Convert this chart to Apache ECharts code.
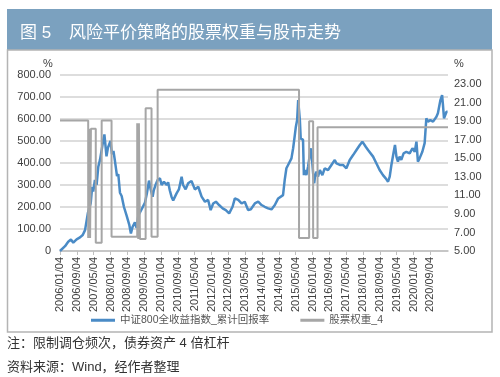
<!DOCTYPE html>
<html>
<head>
<meta charset="utf-8">
<script src="https://cdn.jsdelivr.net/npm/echarts@6/dist/echarts.min.js"></script>
<style>
html, body { margin: 0; padding: 0; background: #fff; }
#chart { width: 500px; height: 377px; }
</style>
</head>
<body>
<div id="chart"></div>
<script>
// x is measured in months after 2006/01/04
var tickLabels = ['2006/01/04','2006/09/04','2007/05/04','2008/01/04','2008/09/04','2009/05/04',
    '2010/01/04','2010/09/04','2011/05/04','2012/01/04','2012/09/04','2013/05/04','2014/01/04',
    '2014/09/04','2015/05/04','2016/01/04','2016/09/04','2017/05/04','2018/01/04','2018/09/04',
    '2019/05/04','2020/01/04','2020/09/04'];

// 中证800全收益指数_累计回报率 (%)
var retMonths = [0,2.4,3.9,5.2,6.3,7.9,9.5,10.8,11.9,13.3,14.6,15.3,15.8,16.6,17.4,18.2,19.0,19.8,20.6,21.1,
    22.1,22.8,24.0,24.7,25.4,26.1,27.1,27.7,28.5,29.3,30.4,31.7,32.9,33.7,34.5,35.6,36.4,37.2,38.8,40.4,
    41.3,42.3,43.1,44.0,44.6,45.4,46.4,47.5,48.3,49.4,50.7,51.4,52.2,53.0,53.8,55.4,56.5,57.8,58.5,59.7,
    60.9,62.5,64.1,65.7,67.3,68.9,70.4,71.6,72.8,74.1,75.6,77.3,78.8,80.4,82.0,83.1,84.7,86.3,87.8,89.4,
    90.7,92.6,94.2,95.8,97.3,98.9,100.5,102.1,103.7,104.5,106.0,106.8,107.6,108.4,109.2,110.0,110.8,111.6,112.1,112.7,
    113.2,113.5,114.0,114.4,115.0,115.5,115.9,116.3,117.1,117.9,118.7,119.2,119.8,120.3,120.8,121.2,121.9,122.6,123.5,124.7,
    125.8,127.4,129.0,130.6,131.4,133.0,134.5,136.1,137.7,139.3,140.9,142.5,143.7,144.3,145.3,146.4,147.2,148.8,150.4,151.9,
    153.5,154.8,155.9,156.7,157.5,158.6,159.2,159.9,160.6,161.4,162.2,163.3,164.6,166.2,167.5,168.6,169.4,170.1,170.9,172.2,
    173.3,174.1,174.9,176.0,177.3,178.9,179.6,180.8,181.6,182.0,182.5,183.2,183.7,184.2];
var retValues = [0,22,42,52,38,53,62,73,95,175,217,292,270,323,300,383,414,459,505,530,
    430,470,500,440,455,410,340,350,265,250,200,160,120,80,110,130,105,160,190,220,
    262,320,280,247,277,300,323,330,300,315,300,312,275,247,230,262,280,338,300,280,
    308,318,280,292,247,224,232,186,216,224,209,194,186,171,201,239,232,216,224,186,
    190,216,224,209,201,194,189,209,239,247,254,323,376,391,383,421,467,527,565,595,
    686,694,595,512,520,505,345,368,345,383,436,467,414,353,308,338,361,338,368,345,
    376,368,391,414,398,391,391,376,414,436,459,482,497,505,474,459,451,429,398,368,
    345,330,315,338,391,451,482,429,406,429,414,444,451,444,467,451,497,406,421,451,
    490,603,588,595,588,610,626,686,709,664,603,610,633,633];

// 股票权重_4 (%), value holds from its month until the next change
var weightMonths = [0,13.4,14.0,14.3,14.7,17.0,19.8,24.5,36.7,37.2,37.5,38.0,40.7,43.5,46.4,113.6,118.4,120.3,122.4,184.4];
var weightValues = [19.1,6.4,18.2,6.4,18.2,5.9,19.1,6.55,18.8,6.3,18.8,6.3,20.4,6.55,22.4,6.4,19.0,6.4,18.35,18.35];

function labelMonth(s) {
    var p = s.split('/');
    return (parseInt(p[0], 10) - 2006) * 12 + parseInt(p[1], 10) - 1;
}
var tickMonths = tickLabels.map(labelMonth);

var retData = retMonths.map(function (m, i) { return [m, retValues[i]]; });
var weightData = weightMonths.map(function (m, i) { return [m, weightValues[i]]; });

var font = "'Liberation Sans', 'Noto Sans CJK SC', sans-serif";
var chart = echarts.init(document.getElementById('chart'));

var option = {
    animation: false,
    backgroundColor: '#fff',
    grid: { left: 60, right: 52, top: 75, bottom: 126 },
    legend: {
        left: 91,
        top: 315,
        padding: 0,
        itemWidth: 24,
        itemHeight: 3,
        itemGap: 31,
        icon: 'rect',
        textStyle: { fontSize: 10.5, color: '#555', fontFamily: font },
        data: ['中证800全收益指数_累计回报率', '股票权重_4']
    },
    xAxis: {
        type: 'value',
        min: 0,
        max: 184.4,
        axisLine: { show: true, lineStyle: { color: '#bfbfbf', width: 1.5 } },
        axisTick: { show: true, length: 4, customValues: tickMonths, lineStyle: { color: '#bfbfbf' } },
        splitLine: { show: false },
        axisLabel: {
            customValues: tickMonths,
            rotate: 90,
            margin: 6,
            fontSize: 11,
            color: '#404040',
            fontFamily: font,
            formatter: function (v) {
                var i = tickMonths.indexOf(v);
                return i >= 0 ? tickLabels[i] : '';
            }
        }
    },
    yAxis: [{
        type: 'value',
        min: 0,
        max: 800,
        interval: 100,
        axisLine: { show: false },
        axisTick: { show: false },
        splitLine: { lineStyle: { color: '#d2d2d2', width: 1.5 } },
        axisLabel: {
            margin: 9,
            fontSize: 11,
            color: '#404040',
            fontFamily: font,
            formatter: function (v) { return v === 0 ? '0' : v.toFixed(2); }
        }
    }, {
        type: 'value',
        min: 5,
        max: 24,
        interval: 2,
        position: 'right',
        axisLine: { show: false },
        axisTick: { show: false },
        splitLine: { show: false },
        axisLabel: {
            showMaxLabel: false,
            margin: 6,
            fontSize: 11,
            color: '#404040',
            fontFamily: font,
            formatter: function (v) { return v > 23 ? '' : v.toFixed(2); }
        }
    }],
    series: [{
        name: '中证800全收益指数_累计回报率',
        type: 'line',
        yAxisIndex: 0,
        data: retData,
        showSymbol: false,
        color: '#4a8bc6',
        lineStyle: { width: 2.5, color: '#4a8bc6' },
        z: 2
    }, {
        name: '股票权重_4',
        type: 'line',
        yAxisIndex: 1,
        step: 'end',
        data: weightData,
        showSymbol: false,
        color: '#a6a6a6',
        lineStyle: { width: 2, color: '#a6a6a6' },
        z: 3
    }],
    graphic: [
        { type: 'rect', shape: { x: 7, y: 9, width: 485, height: 41 }, style: { fill: '#7ba1bf' } },
        { type: 'text', x: 20, y: 33, style: { text: '图 5', fill: '#fff', font: '17px ' + font, textVerticalAlign: 'middle' } },
        { type: 'text', x: 69, y: 33, style: { text: '风险平价策略的股票权重与股市走势', fill: '#fff', font: '17px ' + font, textVerticalAlign: 'middle' } },
        { type: 'rect', shape: { x: 7.5, y: 50, width: 484.5, height: 282 }, style: { fill: 'none', stroke: '#b4b4b4', lineWidth: 1.5 } },
        { type: 'text', x: 43, y: 64, style: { text: '%', fill: '#404040', font: '11px ' + font, textVerticalAlign: 'middle' } },
        { type: 'text', x: 454, y: 64, style: { text: '%', fill: '#404040', font: '11px ' + font, textVerticalAlign: 'middle' } },
        { type: 'text', x: 7, y: 343, style: { text: '注：限制调仓频次，债券资产 4 倍杠杆', fill: '#333', font: '13px ' + font, textVerticalAlign: 'middle' } },
        { type: 'text', x: 7, y: 367, style: { text: '资料来源：Wind，经作者整理', fill: '#333', font: '13px ' + font, textVerticalAlign: 'middle' } }
    ]
};

chart.setOption(option);
</script>
</body>
</html>
